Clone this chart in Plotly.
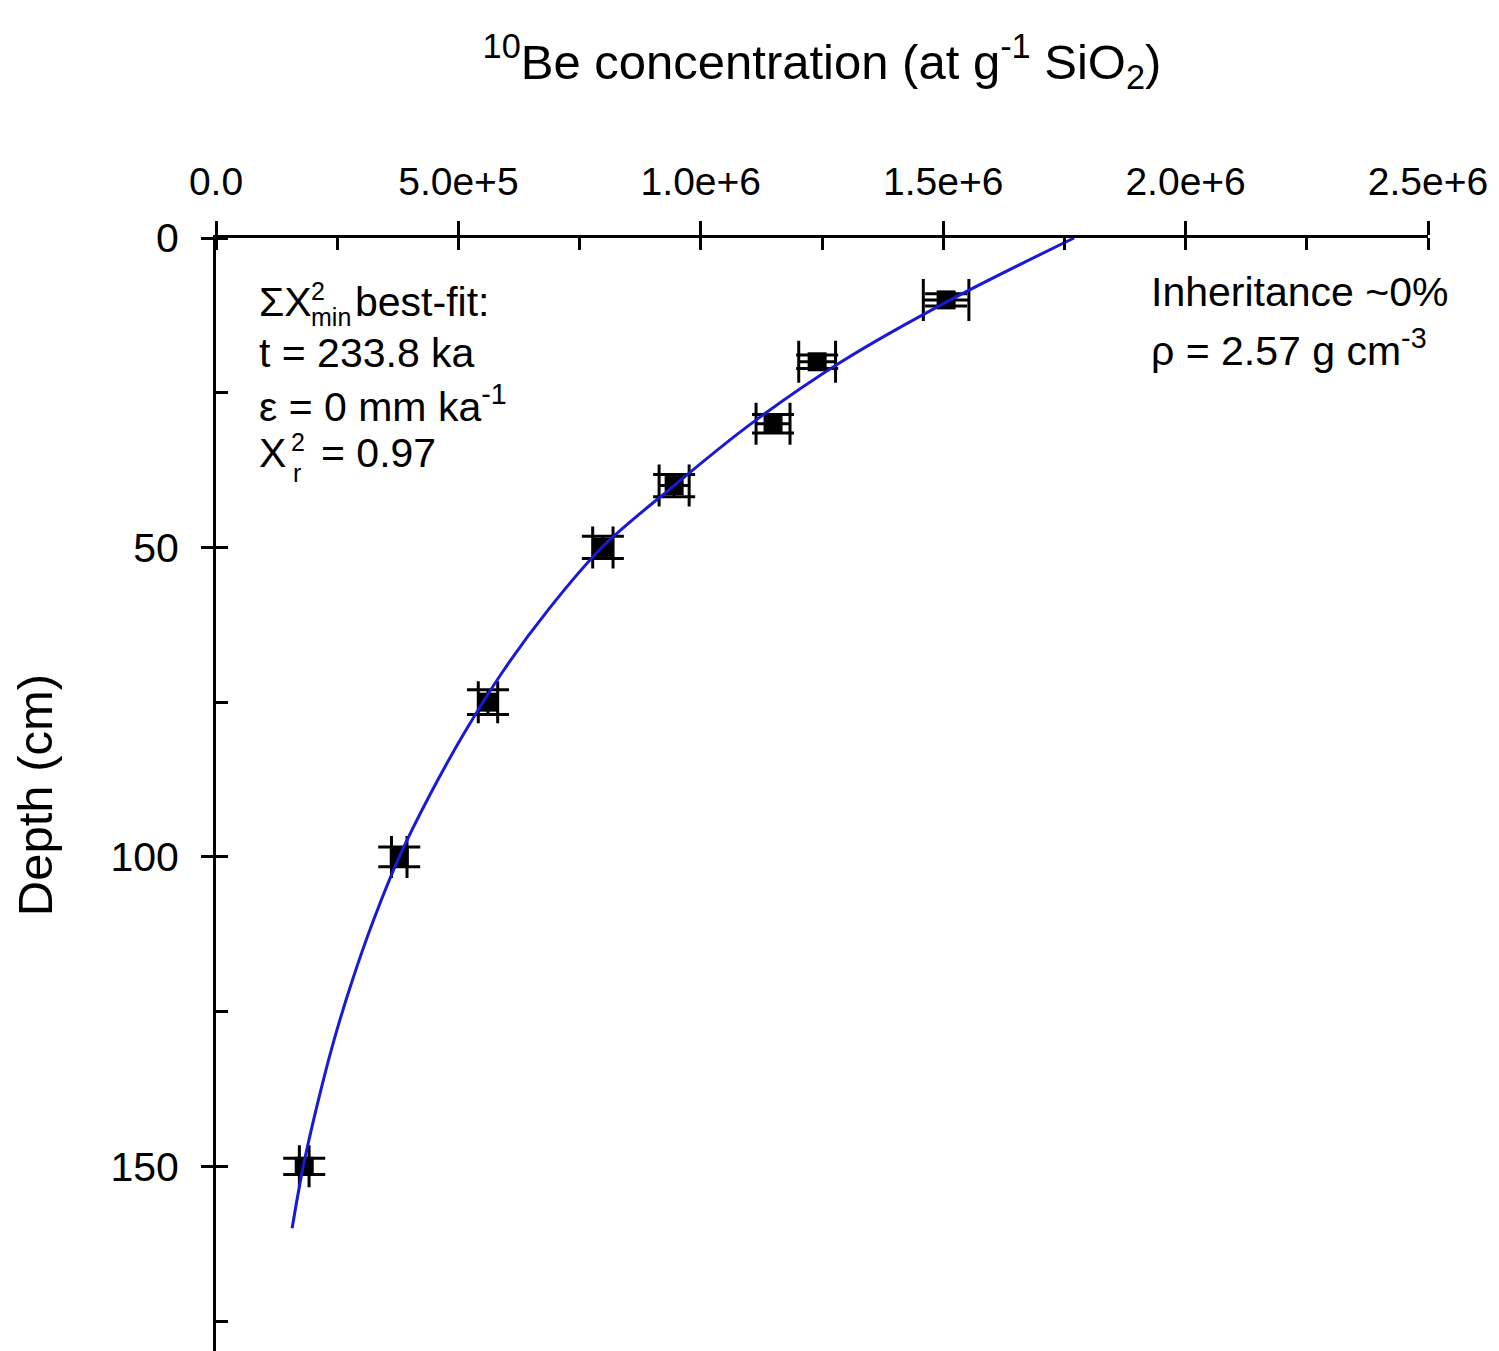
import plotly.graph_objects as go

# ---- data ----
depth_pts = [10, 20, 30, 40, 50, 75, 100, 150]
conc_pts = [1.506e6, 1.24e6, 1.149e6, 0.945e6, 0.798e6, 0.561e6, 0.378e6, 0.182e6]
conc_err = [0.047e6, 0.038e6, 0.035e6, 0.031e6, 0.021e6, 0.020e6, 0.016e6, 0.010e6]
depth_err = [1.0, 1.1, 1.5, 1.8, 1.8, 2.0, 1.6, 1.3]

curve_depth = [0, 10, 20, 30, 40, 50, 60, 70, 80, 90, 100, 110, 120, 130, 140, 150, 160]
curve_conc = [1.77e6, 1.515e6, 1.29e6, 1.104e6, 0.945e6, 0.796e6, 0.686e6, 0.592e6,
              0.512e6, 0.441e6, 0.378e6, 0.326e6, 0.281e6, 0.242e6, 0.209e6, 0.180e6, 0.157e6]

x_tickvals = [0, 5e5, 1e6, 1.5e6, 2e6, 2.5e6]
x_ticktext = ["0.0", "5.0e+5", "1.0e+6", "1.5e+6", "2.0e+6", "2.5e+6"]
y_tickvals = [0, 50, 100, 150]
y_ticktext = ["0", "50", "100", "150"]

FONT = "Liberation Sans, Arial, sans-serif"
OX, OY = 7, 6            # page offset of the figure inside the browser window
W, H = 1492, 1345
L, T = 215 - OX, 236 - OY
R = W - (1427 - OX)
B = H - (1350 - OY)

fig = go.Figure()
fig.add_trace(go.Scatter(
    x=conc_pts, y=depth_pts, mode="markers",
    marker=dict(symbol="square", size=19, color="black"),
    error_x=dict(type="data", array=conc_err, color="black", thickness=3, width=21),
    error_y=dict(type="data", array=depth_err, color="black", thickness=3, width=21),
    showlegend=False,
))
fig.add_trace(go.Scatter(
    x=curve_conc, y=curve_depth, mode="lines",
    line=dict(color="rgb(25,25,215)", width=3, shape="spline", smoothing=1.0),
    showlegend=False,
))

fig.update_xaxes(
    side="top", range=[0, 2.5e6], tickmode="array", tickvals=x_tickvals, ticktext=x_ticktext,
    ticks="outside", ticklen=14, tickwidth=3, tickcolor="black",
    minor=dict(dtick=2.5e5, tick0=0, ticks="inside", ticklen=12, tickwidth=3, tickcolor="black"),
    showline=True, linewidth=3, linecolor="black", showgrid=False, zeroline=False,
    tickfont=dict(family=FONT, size=39, color="black"), ticklabelstandoff=10,
    title=dict(text="<sup>10</sup>Be concentration (at g<sup>-1</sup> SiO<sub>2</sub>)",
               font=dict(family=FONT, size=49, color="black"), standoff=66),
)
fig.update_yaxes(
    range=[180, 0], tickmode="array", tickvals=y_tickvals, ticktext=y_ticktext,
    ticks="outside", ticklen=12, tickwidth=3, tickcolor="black",
    minor=dict(dtick=25, tick0=0, ticks="inside", ticklen=12, tickwidth=3, tickcolor="black"),
    showline=True, linewidth=3, linecolor="black", showgrid=False, zeroline=False,
    tickfont=dict(family=FONT, size=41, color="black"), ticklabelstandoff=14,
    title=dict(text="Depth (cm)", font=dict(family=FONT, size=49, color="black"), standoff=44),
)

pw, ph = W - L - R, H - T - B


def px(x):
    return (x - OX - L) / pw


def py(y):
    return (H - B - (y - OY)) / ph


def ann(text, x, y, size=41):
    fig.add_annotation(text=text, x=px(x), y=py(y), xref="paper", yref="paper",
                       xanchor="left", yanchor="middle", showarrow=False,
                       font=dict(family=FONT, size=size, color="black"))


# left text block
ann("ΣΧ", 256, 300)
ann("2", 308, 289, 25)
ann("min", 308, 315, 25)
ann("best-fit:", 352, 300)
ann("t = 233.8 ka", 256, 351)
ann("ε = 0 mm ka<sup>-1</sup>", 256, 402)
ann("Χ", 256, 451)
ann("2", 288, 440, 25)
ann("r", 290, 471, 25)
ann("= 0.97", 318, 451)

# right text block
ann("Inheritance ~0%", 1148, 290)
ann("ρ = 2.57 g cm<sup>-3</sup>", 1148, 346)

fig.update_layout(
    width=W, height=H, margin=dict(l=L, r=R, t=T, b=B, autoexpand=False),
    plot_bgcolor="white", paper_bgcolor="white",
)
fig.write_html("out.html")
